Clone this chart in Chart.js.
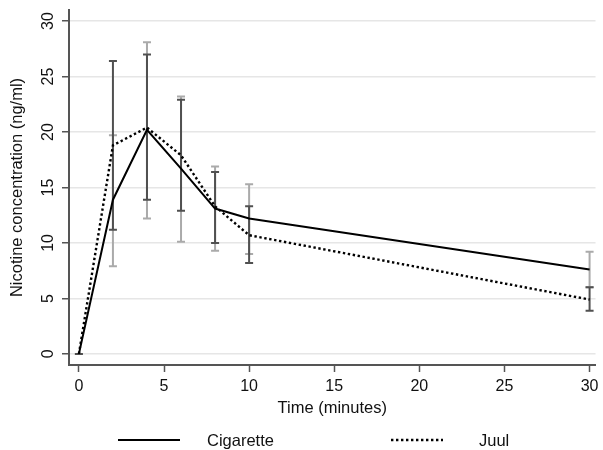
<!DOCTYPE html>
<html>
<head>
<meta charset="utf-8">
<script src="https://cdn.jsdelivr.net/npm/chart.js@4.4.1/dist/chart.umd.min.js"></script>
<style>
    html, body { margin: 0; padding: 0; background: #fff; }
    #wrap { width: 603px; height: 450px; }
</style>
</head>
<body>
<div id="wrap"><canvas id="chart" width="603" height="450"></canvas></div>
<script>
// Data
const times = [0, 2, 4, 6, 8, 10, 30];
const cigarette = [0, 13.9, 20.2, 16.7, 13.1, 12.2, 7.6];
const juul = [0, 18.8, 20.4, 17.9, 13.3, 10.7, 4.9];
const cigLow = [0, 7.9, 12.2, 10.1, 9.3, 9.0, 6.0];
const cigHigh = [0, 19.7, 28.1, 23.2, 16.9, 15.3, 9.2];
const juulLow = [0, 11.2, 13.9, 12.9, 10.0, 8.2, 3.9];
const juulHigh = [0, 26.4, 27.0, 22.9, 16.4, 13.3, 6.0];
const xTicks = [0, 5, 10, 15, 20, 25, 30];
const yTicks = [0, 5, 10, 15, 20, 25, 30];

const FONT = 'Liberation Sans, Arial, sans-serif';
const TEXT = '#111111';
const AXIS = '#555555';

// Error bars (cigarette light gray, juul dark gray on top)
const errorBars = {
    id: 'errorBars',
    beforeDatasetsDraw(chart) {
        const { ctx, scales: { x, y } } = chart;
        const groups = [
            { low: cigLow, high: cigHigh, color: '#aaaaaa' },
            { low: juulLow, high: juulHigh, color: '#505050' }
        ];
        ctx.save();
        ctx.lineWidth = 2;
        groups.forEach(g => {
            ctx.strokeStyle = g.color;
            times.forEach((t, i) => {
                const px = x.getPixelForValue(t);
                const top = y.getPixelForValue(g.high[i]);
                const bot = y.getPixelForValue(g.low[i]);
                ctx.beginPath();
                ctx.moveTo(px, top); ctx.lineTo(px, bot);
                ctx.moveTo(px - 4, top); ctx.lineTo(px + 4, top);
                ctx.moveTo(px - 4, bot); ctx.lineTo(px + 4, bot);
                ctx.stroke();
            });
        });
        ctx.restore();
    }
};

// Rotated y tick labels + bottom legend
const extras = {
    id: 'extras',
    afterDraw(chart) {
        const { ctx, scales: { y } } = chart;
        ctx.save();
        ctx.fillStyle = TEXT;
        ctx.font = '16px ' + FONT;
        ctx.textAlign = 'center';
        ctx.textBaseline = 'middle';
        y.ticks.forEach(t => {
            const py = y.getPixelForValue(t.value);
            ctx.save();
            ctx.translate(48.5, py);
            ctx.rotate(-Math.PI / 2);
            ctx.fillText(String(t.value), 0, 0);
            ctx.restore();
        });

        // legend
        const items = [
            { ds: chart.data.datasets[0], x0: 118, x1: 180, tx: 207 },
            { ds: chart.data.datasets[1], x0: 391, x1: 443, tx: 479 }
        ];
        ctx.font = '16.5px ' + FONT;
        ctx.textAlign = 'left';
        items.forEach(it => {
            ctx.beginPath();
            ctx.strokeStyle = it.ds.borderColor;
            ctx.lineWidth = it.ds.borderWidth;
            ctx.setLineDash(it.ds.borderDash || []);
            ctx.moveTo(it.x0, 440);
            ctx.lineTo(it.x1, 440);
            ctx.stroke();
            ctx.setLineDash([]);
            ctx.fillText(it.ds.label, it.tx, 441);
        });
        ctx.restore();
    }
};

new Chart(document.getElementById('chart'), {
    type: 'line',
    data: {
        datasets: [
            {
                label: 'Cigarette',
                data: times.map((t, i) => ({ x: t, y: cigarette[i] })),
                borderColor: '#000000',
                borderWidth: 2,
                pointRadius: 0,
                tension: 0,
                fill: false
            },
            {
                label: 'Juul',
                data: times.map((t, i) => ({ x: t, y: juul[i] })),
                borderColor: '#000000',
                borderWidth: 2.4,
                borderDash: [2.4, 2.6],
                pointRadius: 0,
                tension: 0,
                fill: false
            }
        ]
    },
    options: {
        responsive: false,
        animation: false,
        layout: { padding: { top: 10, right: 2, bottom: 0, left: 0 } },
        plugins: {
            legend: { display: false },
            tooltip: { enabled: false }
        },
        scales: {
            x: {
                type: 'linear',
                min: -0.581,
                max: 30.35,
                afterBuildTicks: (scale) => { scale.ticks = xTicks.map(v => ({ value: v })); },
                afterFit: (scale) => { scale.height = 85; },
                grid: {
                    drawOnChartArea: false,
                    drawTicks: true,
                    tickLength: 7,
                    tickColor: AXIS,
                    tickWidth: 1.5
                },
                border: { color: AXIS, width: 2 },
                ticks: {
                    color: TEXT,
                    padding: 4.5,
                    maxRotation: 0,
                    font: { family: FONT, size: 16 }
                },
                title: {
                    display: true,
                    text: 'Time (minutes)',
                    color: TEXT,
                    font: { family: FONT, size: 16.5 },
                    padding: { top: 0, bottom: 32 }
                }
            },
            y: {
                type: 'linear',
                min: -1,
                max: 31,
                afterBuildTicks: (scale) => { scale.ticks = yTicks.map(v => ({ value: v })); },
                afterFit: (scale) => { scale.width = 69; },
                grid: {
                    color: '#e6e6e6',
                    lineWidth: 1.5,
                    drawTicks: true,
                    tickLength: 7,
                    tickColor: AXIS,
                    tickWidth: 1.5
                },
                border: { color: AXIS, width: 2 },
                ticks: { display: false },
                title: {
                    display: true,
                    text: 'Nicotine concentration (ng/ml)',
                    color: TEXT,
                    font: { family: FONT, size: 16.5 },
                    padding: { top: 8, bottom: 0 }
                }
            }
        }
    },
    plugins: [errorBars, extras]
});
</script>
</body>
</html>
